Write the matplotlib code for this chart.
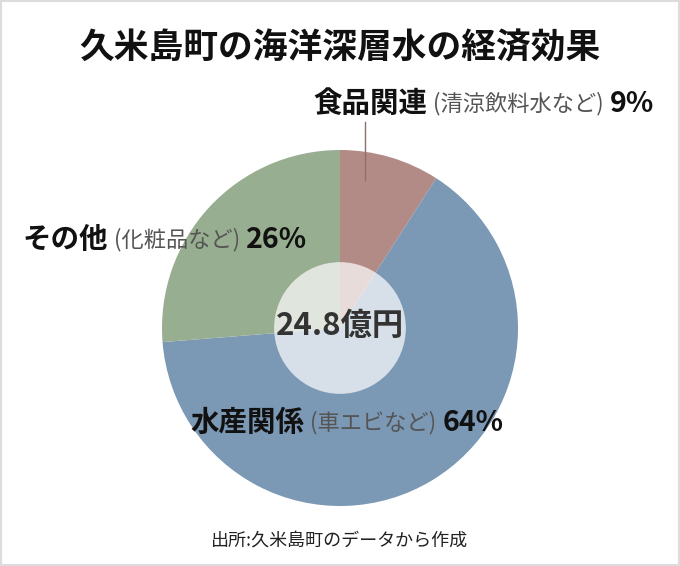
import matplotlib
matplotlib.use("Agg")
import matplotlib.pyplot as plt
from matplotlib.patches import Circle, Rectangle

plt.rcParams['font.family'] = ['Noto Sans CJK JP', 'DejaVu Sans']

# データ
names = ["食品関連", "水産関係", "その他"]
notes = ["(清涼飲料水など)", "(車エビなど)", "(化粧品など)"]
shares = [9, 64, 26]
colors = ["#b38b86", "#7b98b5", "#98ae90"]
total_label = "24.8億円"
title = "久米島町の海洋深層水の経済効果"
source = "出所:久米島町のデータから作成"

W, H = 680, 566
fig = plt.figure(figsize=(W / 100, H / 100), dpi=100)
fig.patch.set_facecolor("white")
fig.patches.append(Rectangle((0, 0), 1, 1, transform=fig.transFigure,
                             facecolor="none", edgecolor="#dcdcdc", linewidth=3))

# 円グラフ (中心 340,328 px / 半径 178 px)
cx, cy, R = 340, 328, 178
ax = fig.add_axes([(cx - R) / W, (H - cy - R) / H, 2 * R / W, 2 * R / H])
ax.pie(shares, colors=colors, startangle=90, counterclock=False, radius=1,
       wedgeprops=dict(linewidth=0))
ax.set_xlim(-1, 1)
ax.set_ylim(-1, 1)
ax.set_aspect("equal")
ax.axis("off")
ax.add_patch(Circle((0, 0), 0.37, facecolor="white", alpha=0.7, linewidth=0))
ax.text(0, 0.01, total_label, ha="center", va="center", fontsize=22.5,
        fontweight="bold", color="#333333")

# 引き出し線 (食品関連)
ax.plot([0.14, 0.14], [1.155, 0.83], color="#8e6f6b", linewidth=1, clip_on=False)

fig.text(0.5, 1 - 48 / H, title, ha="center", va="center", fontsize=25,
         fontweight="bold", color="#111111")


def label(x_px, y_px, name, note, pct):
    t = fig.text(x_px / W, 1 - y_px / H, name, ha="left", va="center",
                 fontsize=20.5, fontweight="bold", color="#111111")
    t2 = fig.text(0, 0, note, fontsize=16, color="#555555", ha="left",
                  va="center")
    fig.canvas.draw()
    r = fig.canvas.get_renderer()
    bb = t.get_window_extent(r)
    t2.set_position(((bb.x1 + 6) / W, (bb.y0 + bb.y1) / 2 / H))
    bb2 = t2.get_window_extent(r)
    fig.text((bb2.x1 + 6) / W, (bb.y0 + bb.y1) / 2 / H, pct, ha="left",
             va="center", fontsize=20.5, fontweight="bold", color="#111111")


label(313, 104, names[0], notes[0], f"{shares[0]}%")
label(190, 423, names[1], notes[1], f"{shares[1]}%")
label(22, 240, names[2], notes[2], f"{shares[2]}%")

fig.text(0.5, 1 - 541 / H, source, ha="center", va="center", fontsize=13,
         color="#222222")

fig.savefig("out.png", dpi=100)
